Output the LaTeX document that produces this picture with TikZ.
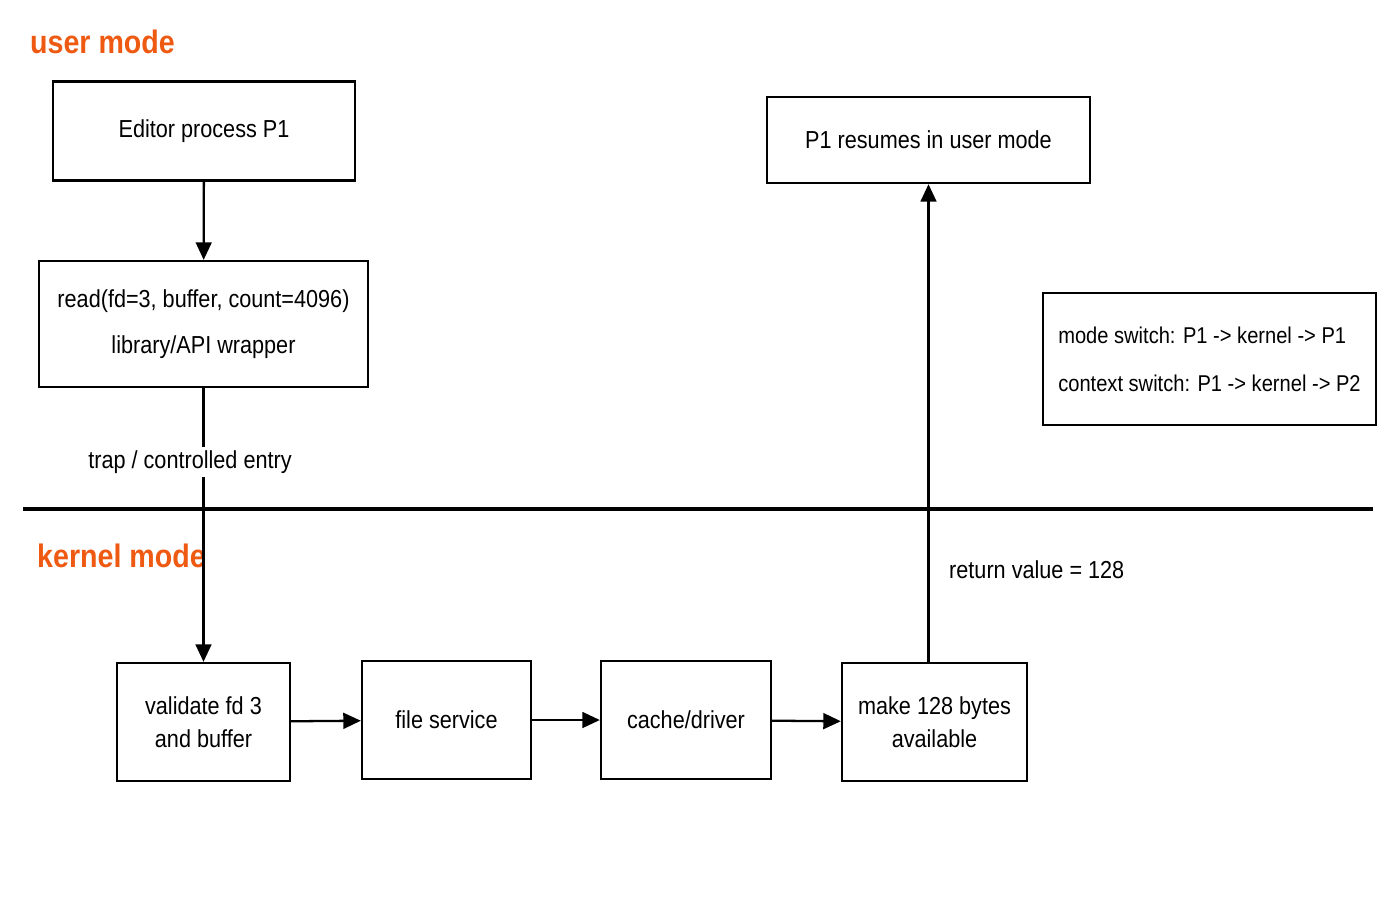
\documentclass[tikz,border=0pt]{standalone}
\usepackage{fontspec}
\setmainfont{Liberation Sans}[FakeStretch=0.88]
\usetikzlibrary{arrows.meta}
\definecolor{orng}{HTML}{EE5A12}
\begin{document}
\begin{tikzpicture}[x=0.02cm,y=-0.02cm,
  box/.style={draw,line width=1.3pt,inner sep=0pt,align=center,font=\fontsize{14}{19}\selectfont},
  arr/.style={line width=1.3pt,-{Triangle[length=10pt,width=9pt]}},
  lbl/.style={font=\fontsize{14}{16}\selectfont},
  mode/.style={font=\bfseries\fontsize{18.5}{20}\selectfont,text=orng,anchor=west}]
\useasboundingbox (0,0) rectangle (1400,900);
\node[box,minimum width=302*0.02cm,minimum height=99*0.02cm] (ed) at (204,131) {Editor process P1};
\node[box,minimum width=329*0.02cm,minimum height=126*0.02cm,font=\fontsize{14}{26.5}\selectfont] (rd) at (203.5,324) {read(fd=3, buffer, count=4096)\\library/API wrapper};
\node[box,minimum width=323*0.02cm,minimum height=86*0.02cm] (res) at (928.5,140) {P1 resumes in user mode};
\node[box,minimum width=333*0.02cm,minimum height=132*0.02cm,align=left,font=\fontsize{13}{27.5}\selectfont] (leg) at (1209.5,359) {mode switch: P1 -> kernel -> P1\\context switch: P1 -> kernel -> P2};
\node[box,minimum width=173*0.02cm,minimum height=118*0.02cm] (va) at (203.5,722) {validate fd 3\\and buffer};
\node[box,minimum width=169*0.02cm,minimum height=118*0.02cm] (fs) at (446.5,720) {file service};
\node[box,minimum width=170*0.02cm,minimum height=118*0.02cm] (cd) at (686,720) {cache/driver};
\node[box,minimum width=185*0.02cm,minimum height=118*0.02cm] (mk) at (934.5,722) {make 128 bytes\\available};
\coordinate (l1) at (23,509); \coordinate (l2) at (1373,509);
\draw[line width=2.3pt] (l1) -- (l2);
\node[mode] (um) at (24,42) {user mode};
\node[mode] (km) at (31,556) {kernel mode};
\draw[arr] (ed) -- (rd);
\draw[arr] (rd.south) -- (va.north);
\node[lbl,fill=white,inner sep=2pt] (tr) at (190,462) {trap / controlled entry};
\draw[arr] (va) -- (fs);
\draw[arr] (fs) -- (cd);
\draw[arr] (cd) -- (mk);
\draw[arr] (mk.north -| res.south) -- (res.south);
\node[lbl,anchor=west] (rv) at (943,570) {return value = 128};
\end{tikzpicture}
\end{document}
